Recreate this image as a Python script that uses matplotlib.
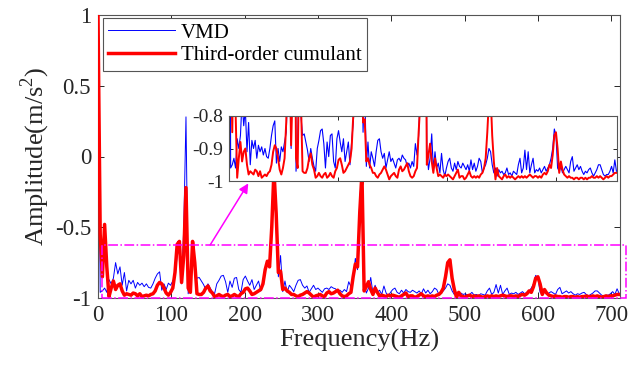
import numpy as np
import matplotlib
matplotlib.use("Agg")
import matplotlib.pyplot as plt
from matplotlib.patches import Rectangle

plt.rcParams['font.family'] = ['Liberation Serif', 'DejaVu Serif']
plt.rcParams['mathtext.fontset'] = 'custom'
plt.rcParams['mathtext.rm'] = 'Liberation Serif'

# frequency sampling step (Hz)
step_hz = 3

# Third-order cumulant spectrum (0 .. 711 Hz, 3 Hz step)
cumulant = [
    1.0, -0.55, -0.85, -0.48, -0.78, -0.99, -0.93, -0.88, -0.94, -0.91,
    -0.90, -0.95, -0.98, -0.97, -0.975, -0.98, -0.965, -0.97, -0.985, -0.97,
    -0.99, -0.985, -0.98, -0.985, -0.975, -0.97, -0.95, -0.91, -0.89, -0.90,
    -0.93, -0.965, -0.98, -0.96, -0.93, -0.82, -0.62, -0.60, -0.89, -0.70,
    -0.22, -0.93, -0.96, -0.60, -0.75, -0.97, -0.975, -0.975, -0.96, -0.93,
    -0.915, -0.95, -0.965, -0.99, -0.985, -0.975, -0.985, -0.99, -0.98, -0.975,
    -0.99, -0.985, -0.975, -0.985, -0.99, -0.97, -0.96, -0.935, -0.93, -0.95,
    -0.975, -0.97, -0.96, -0.95, -0.94, -0.90, -0.80, -0.74, -0.78, -0.50,
    -0.10, -0.40, -0.82, -0.81, -0.94, -0.93, -0.95, -0.96, -0.975, -0.975,
    -0.985, -0.99, -0.98, -0.975, -0.965, -0.955, -0.965, -0.98, -0.995, -0.985,
    -0.98, -0.975, -0.985, -0.99, -0.965, -0.955, -0.97, -0.965, -0.955, -0.945,
    -0.97, -0.985, -0.99, -0.985, -0.97, -0.96, -0.85, -0.76, -0.78, -0.40,
    -0.12, -0.95, -0.92, -0.885, -0.94, -0.975, -0.93, -0.96, -0.985, -0.98,
    -0.985, -0.99, -0.98, -0.985, -0.98, -0.985, -0.99, -0.995, -0.985, -0.975,
    -0.965, -0.99, -0.985, -0.985, -0.995, -0.99, -0.98, -0.97, -0.985, -0.99,
    -0.985, -0.99, -0.985, -0.99, -0.98, -0.975, -0.96, -0.93, -0.85, -0.75,
    -0.73, -0.86, -0.94, -0.995, -0.96, -0.985, -0.99, -0.995, -0.985, -0.98,
    -0.99, -0.985, -0.99, -0.985, -0.99, -0.995, -0.99, -0.985, -0.99, -0.985,
    -0.99, -0.985, -0.99, -0.985, -0.98, -0.985, -0.99, -0.985, -0.985, -0.99,
    -0.985, -0.99, -0.98, -0.975, -0.98, -0.97, -0.95, -0.96, -0.92, -0.86,
    -0.85, -0.90, -0.975, -0.94, -0.965, -0.98, -0.985, -0.99, -0.985, -0.99,
    -0.99, -0.995, -0.99, -0.99, -0.995, -0.99, -0.99, -0.995, -0.99, -0.995,
    -0.99, -0.99, -0.985, -0.99, -0.99, -0.985, -0.99, -0.985, -0.99, -0.995,
    -0.99, -0.985, -0.99, -0.985, -0.985, -0.98, -0.975, -0.975,
]

# VMD spectrum (0 .. 711 Hz, 3 Hz step)
vmd = [
    0.90, -0.96, -0.95, -0.93, -0.96, -0.87, -0.90, -0.86, -0.75, -0.83,
    -0.78, -0.91, -0.82, -0.95, -0.875, -0.90, -0.875, -0.93, -0.89, -0.91,
    -0.895, -0.92, -0.90, -0.925, -0.93, -0.90, -0.86, -0.83, -0.815, -0.945,
    -0.90, -0.94, -0.895, -0.91, -0.88, -0.85, -0.70, -0.65, -0.90, -0.50,
    0.28, -0.97, -0.88, -0.65, -0.80, -0.86, -0.855, -0.88, -0.905, -0.94,
    -0.90, -0.93, -0.955, -0.97, -0.90, -0.875, -0.845, -0.84, -0.885, -0.96,
    -0.88, -0.925, -0.86, -0.855, -0.94, -0.96, -0.87, -0.845, -0.88, -0.91,
    -0.87, -0.94, -0.91, -0.88, -0.95, -0.88, -0.82, -0.74, -0.78, -0.50,
    -0.12, -0.50, -0.85, -0.70, -0.955, -0.88, -0.96, -0.91, -0.93, -0.955,
    -0.91, -0.875, -0.87, -0.91, -0.93, -0.915, -0.96, -0.935, -0.91, -0.94,
    -0.93, -0.945, -0.96, -0.935, -0.93, -0.94, -0.92, -0.93, -0.935, -0.955,
    -0.945, -0.96, -0.94, -0.955, -0.885, -0.92, -0.86, -0.72, -0.80, -0.30,
    -0.12, -0.90, -0.965, -0.93, -0.855, -0.965, -0.91, -0.96, -0.945, -0.975,
    -0.915, -0.965, -0.985, -0.96, -0.94, -0.93, -0.96, -0.97, -0.945, -0.965,
    -0.94, -0.955, -0.96, -0.945, -0.955, -0.965, -0.95, -0.97, -0.935, -0.965,
    -0.945, -0.97, -0.955, -0.93, -0.94, -0.975, -0.96, -0.95, -0.93, -0.90,
    -0.91, -0.95, -0.975, -0.96, -0.985, -0.965, -0.975, -0.97, -0.98, -0.975,
    -0.96, -0.98, -0.975, -0.985, -0.97, -0.975, -0.98, -0.95, -0.93, -0.975,
    -0.96, -0.905, -0.965, -0.91, -0.975, -0.95, -0.93, -0.975, -0.965, -0.97,
    -0.96, -0.975, -0.965, -0.955, -0.97, -0.96, -0.95, -0.93, -0.90, -0.84,
    -0.86, -0.96, -0.97, -0.955, -0.975, -0.965, -0.955, -0.965, -0.975, -0.94,
    -0.925, -0.97, -0.96, -0.95, -0.965, -0.955, -0.97, -0.98, -0.97, -0.975,
    -0.965, -0.96, -0.975, -0.985, -0.975, -0.965, -0.95, -0.95, -0.965, -0.98,
    -0.985, -0.98, -0.98, -0.97, -0.955, -0.975, -0.935, -0.97,
]

freq = np.arange(len(vmd)) * step_hz

x_ticks = [0, 100, 200, 300, 400, 500, 600, 700]
y_ticks = [-1, -0.5, 0, 0.5, 1]
y_tick_labels = ['-1', '-0.5', '0', '0.5', '1']
inset_x_ticks = [200, 400, 600]
inset_y_ticks = [-1, -0.9, -0.8]
inset_y_labels = ['-1', '-0.9', '-0.8']

W, H = 629, 374
fig = plt.figure(figsize=(W / 100, H / 100), dpi=100)

spine_c = '#555555'
text_c = '#262626'

def px_axes(l, r, t, b):
    return [l / W, (H - b) / H, (r - l) / W, (b - t) / H]

ax = fig.add_axes(px_axes(98, 620, 15, 298))
ax.plot(freq, vmd, color='#0000ff', lw=0.7, label='VMD', zorder=2)
ax.plot(freq, cumulant, color='#ff0000', lw=2.5, label='Third-order cumulant', zorder=3)
ax.set_xlim(0, 712)
ax.set_ylim(-1, 1)
ax.set_xticks(x_ticks)
ax.set_yticks(y_ticks)
ax.set_yticklabels(y_tick_labels)
ax.tick_params(direction='in', top=True, right=True, labelsize=16.5, colors=text_c,
               length=4, width=0.7, pad=5)
for s in ax.spines.values():
    s.set_color(spine_c)
    s.set_linewidth(0.8)
ax.set_xlabel('Frequency(Hz)', fontsize=19, color=text_c, labelpad=2)
ax.set_ylabel('Amplitude(m/s$^2$)', fontsize=19, color=text_c, labelpad=2)

leg = ax.legend(loc='upper left', bbox_to_anchor=(5 / 522, 1 - 3 / 283), borderaxespad=0,
                fontsize=15, fancybox=False, framealpha=1, edgecolor='#555555',
                handlelength=3.2, handletextpad=0.3, borderpad=0.25, labelspacing=0.15)
leg.get_frame().set_linewidth(0.8)
leg.set_zorder(10)

# zoom region rectangle
rect = Rectangle((5, -0.997), 715, 0.372, fill=False, edgecolor='#ff00ff', lw=1.1,
                 linestyle='-.', clip_on=False, zorder=4)
ax.add_patch(rect)
ax.annotate('', xy=(205, -0.19), xytext=(153, -0.625),
            arrowprops=dict(arrowstyle='-|>', color='#ff00ff', lw=1.1, mutation_scale=14,
                            shrinkA=0, shrinkB=0), zorder=5)

# inset
axi = fig.add_axes(px_axes(229, 617, 116, 181))
axi.plot(freq, vmd, color='#0000ff', lw=0.8)
axi.plot(freq, cumulant, color='#ff0000', lw=1.4)
axi.set_xlim(0, 712)
axi.set_ylim(-1, -0.8)
axi.set_xticks(inset_x_ticks)
axi.set_xticklabels([])
axi.set_yticks(inset_y_ticks)
axi.set_yticklabels(inset_y_labels)
axi.tick_params(direction='in', top=True, right=True, labelsize=14, colors=text_c,
                length=3, width=0.7, pad=4)
for s in axi.spines.values():
    s.set_color(spine_c)
    s.set_linewidth(0.8)
axi.set_zorder(6)

fig.savefig('out.png', dpi=100)
